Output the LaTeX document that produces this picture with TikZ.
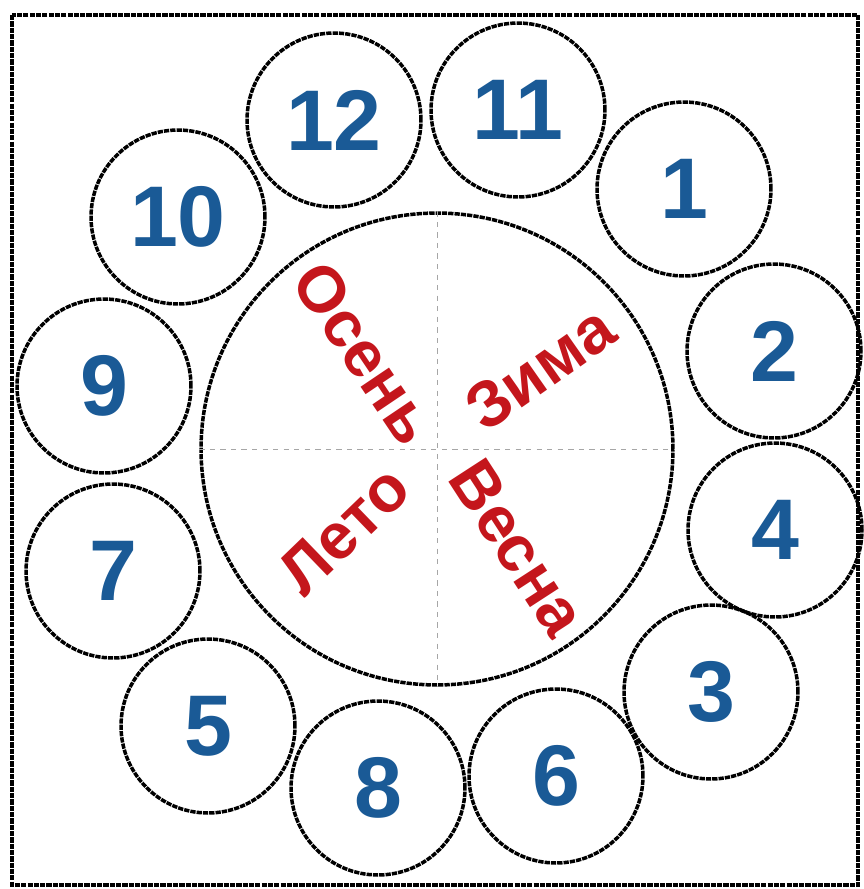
\documentclass[tikz,border=0pt]{standalone}
\usepackage{fontspec}
\setmainfont{Liberation Sans}
\usetikzlibrary{positioning}

\definecolor{numblue}{RGB}{26,90,150}
\definecolor{seasonred}{RGB}{196,22,28}

\tikzset{
	month/.style={circle, draw=black, line width=2pt, dash pattern=on 3pt off 0.6pt, minimum size=3.48cm, inner sep=0pt, text=numblue, font=\bfseries\fontsize{49}{50}\selectfont},
	season/.style={text=seasonred, inner sep=0pt, font=\bfseries\fontsize{37}{40}\selectfont},
	frame/.style={draw=black, line width=2pt, dash pattern=on 3pt off 0.6pt}
}

\begin{document}
\begin{tikzpicture}[x=0.02cm, y=-0.02cm]
			\useasboundingbox (0,0) rectangle (864,889);
			
			% Outer frame
			\draw[frame] (12,15) rectangle (858,885);
			
			% Year wheel
			\node[circle, frame, minimum size=9.44cm, inner sep=0pt] (wheel) at (437,449) {};
			\draw[gray!70, very thin, dashed] (wheel.north) -- (wheel.south);
			\draw[gray!70, very thin, dashed] (wheel.west) -- (wheel.east);
			
			% Seasons
			\node[season, rotate=-56] (autumn) at (365,353) {Осень};
			\node[season, rotate=35] (winter) at (540,368) {Зима};
			\node[season, rotate=44] (summer) at (344,530) {Лето};
			\node[season, rotate=-57] (spring) at (518,548) {Весна};
			
			% Numbered circles round the wheel
			\node[month] (m12) at (334,120) {12};
			\node[month] (m11) at (518,110) {11};
			\node[month] (m1) at (684,189) {1};
			\node[month] (m2) at (774,351) {2};
			\node[month] (m4) at (775,530) {4};
			\node[month] (m3) at (711,692) {3};
			\node[month] (m6) at (556,776) {6};
			\node[month] (m8) at (378,788) {8};
			\node[month] (m5) at (208,726) {5};
			\node[month] (m7) at (113,571) {7};
			\node[month] (m9) at (104,386) {9};
			\node[month] (m10) at (178,217) {10};
			
		\end{tikzpicture}
\end{document}
